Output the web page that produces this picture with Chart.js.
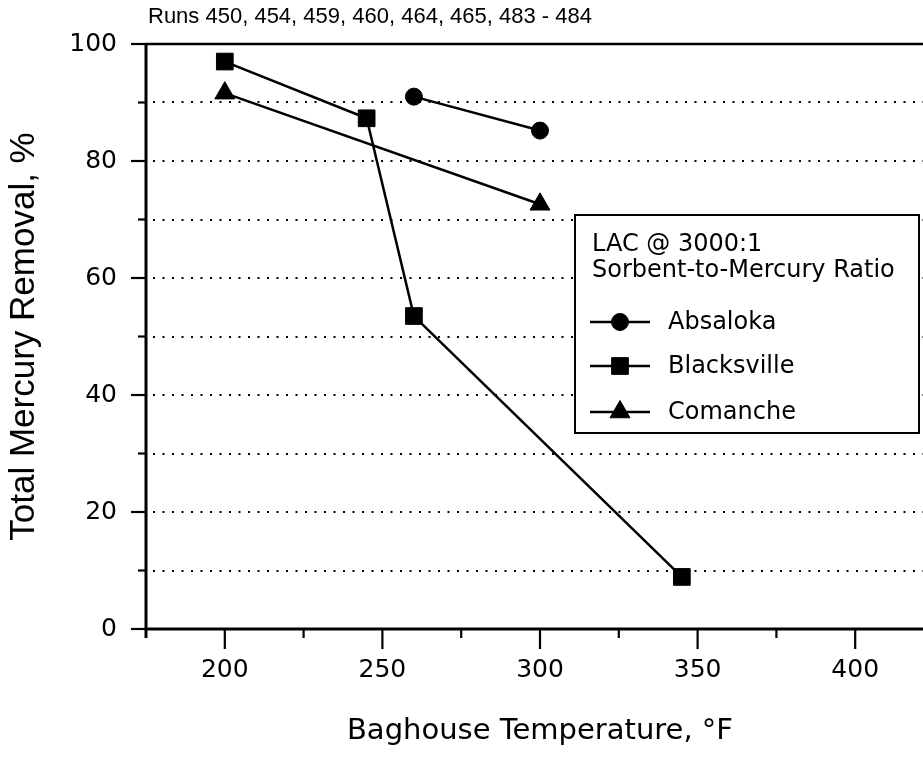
<!DOCTYPE html>
<html>
<head>
<meta charset="utf-8">
<script src="https://cdn.jsdelivr.net/npm/chart.js@4"></script>
<style>
  html, body { margin: 0; padding: 0; background: #fff; overflow: hidden; }
  #wrap { position: relative; width: 940px; height: 757px; }
</style>
</head>
<body>
<div id="wrap"><canvas id="c"></canvas></div>
<script>
// ---- data ----
const seriesNames = ['Absaloka', 'Blacksville', 'Comanche'];
const absalokaTemp = [260, 300];
const absalokaRemoval = [91, 85.2];
const blacksvilleTemp = [200, 245, 260, 345];
const blacksvilleRemoval = [97, 87.3, 53.5, 8.9];
const comancheTemp = [200, 300];
const comancheRemoval = [91.6, 72.6];
const xTickLabels = [200, 250, 300, 350, 400];
const yTickLabels = [0, 20, 40, 60, 80, 100];
const chartTitle = 'Runs 450, 454, 459, 460, 464, 465, 483 - 484';
const legendTitle = ['LAC @ 3000:1', 'Sorbent-to-Mercury Ratio'];
const xTitle = 'Baghouse Temperature, \u00B0F';
const yTitle = 'Total Mercury Removal, %';

function pts(xs, ys) { return xs.map((x, i) => ({ x: x, y: ys[i] })); }

const styles = [
  { pointStyle: 'circle', radius: 8.5 },
  { pointStyle: 'rect', radius: 11.8 },
  { pointStyle: 'triangle', radius: 11.5 }
];
const dataSets = [
  pts(absalokaTemp, absalokaRemoval),
  pts(blacksvilleTemp, blacksvilleRemoval),
  pts(comancheTemp, comancheRemoval)
];

Chart.defaults.font.family = 'DejaVu Sans';
Chart.defaults.color = '#000';

const PLOT_RIGHT = 934; // plot extends past the visible window edge

function drawMarker(ctx, style, radius, x, y) {
  if (Chart.helpers && Chart.helpers.drawPoint) {
    Chart.helpers.drawPoint(ctx, { pointStyle: style, radius: radius, rotation: 0, borderWidth: 1 }, x, y);
    return;
  }
  ctx.beginPath();
  if (style === 'circle') ctx.arc(x, y, radius, 0, Math.PI * 2);
  else if (style === 'rect') { const s = radius * Math.SQRT1_2; ctx.rect(x - s, y - s, 2 * s, 2 * s); }
  else { ctx.moveTo(x, y - radius); ctx.lineTo(x + radius * 0.866, y + radius / 2); ctx.lineTo(x - radius * 0.866, y + radius / 2); ctx.closePath(); }
  ctx.fill(); ctx.stroke();
}

const decor = {
  id: 'decor',
  afterDraw(chart) {
    const ctx = chart.ctx;
    const ca = chart.chartArea;
    const xs = chart.scales.x, ys = chart.scales.y;
    const rightEdge = Math.max(ca.right, chart.width);
    ctx.save();
    ctx.setLineDash([]);
    ctx.strokeStyle = '#000';
    ctx.fillStyle = '#000';
    // frame: top border, left axis, bottom axis
    ctx.lineWidth = 2.5;
    ctx.beginPath(); ctx.moveTo(ca.left, ca.top); ctx.lineTo(rightEdge, ca.top); ctx.stroke();
    ctx.lineWidth = 3;
    ctx.beginPath(); ctx.moveTo(ca.left, ca.top - 1); ctx.lineTo(ca.left, ca.bottom + 9); ctx.stroke();
    ctx.beginPath(); ctx.moveTo(ca.left - 1, ca.bottom); ctx.lineTo(rightEdge, ca.bottom); ctx.stroke();
    // y tick marks
    ctx.lineWidth = 2.2;
    ys.ticks.forEach(t => {
      const py = ys.getPixelForValue(t.value);
      const len = yTickLabels.includes(t.value) ? 15 : 8;
      ctx.beginPath(); ctx.moveTo(ca.left - len, py); ctx.lineTo(ca.left, py); ctx.stroke();
    });
    // x tick marks
    xs.ticks.forEach(t => {
      if (t.value === xs.min) return;
      const px = xs.getPixelForValue(t.value);
      const len = xTickLabels.includes(t.value) ? 20 : 9;
      ctx.beginPath(); ctx.moveTo(px, ca.bottom); ctx.lineTo(px, ca.bottom + len); ctx.stroke();
    });
    // chart title
    ctx.font = '22px "Liberation Sans"';
    ctx.textBaseline = 'middle';
    ctx.textAlign = 'left';
    ctx.fillText(chartTitle, ca.left + 2, 17);

    // legend box
    const bx = ca.left + 429, by = ca.top + 171, bw = 344, bh = 218;
    ctx.fillStyle = '#fff';
    ctx.fillRect(bx, by, bw, bh);
    ctx.fillStyle = '#000';
    ctx.lineWidth = 2;
    ctx.strokeRect(bx, by, bw, bh);
    ctx.font = '24px "DejaVu Sans"';
    ctx.fillText(legendTitle[0], bx + 17, by + 30);
    ctx.fillText(legendTitle[1], bx + 17, by + 56);
    const rowY = [by + 107, by + 151, by + 197];
    chart.data.datasets.forEach((ds, i) => {
      const yy = rowY[i];
      ctx.lineWidth = 2.5;
      ctx.beginPath(); ctx.moveTo(bx + 15, yy); ctx.lineTo(bx + 75, yy); ctx.stroke();
      ctx.lineWidth = 1;
      drawMarker(ctx, ds.pointStyle, ds.pointRadius, bx + 45, yy);
      ctx.font = '24px "DejaVu Sans"';
      ctx.fillText(ds.label, bx + 93, yy + 1);
    });
    ctx.restore();
  }
};

const chart = new Chart(document.getElementById('c'), {
  type: 'scatter',
  data: {
    datasets: seriesNames.map((name, i) => ({
      label: name,
      data: dataSets[i],
      showLine: true,
      borderColor: '#000',
      backgroundColor: '#000',
      borderWidth: 2.5,
      pointStyle: styles[i].pointStyle,
      pointRadius: styles[i].radius,
      pointBorderWidth: 1,
      pointBackgroundColor: '#000',
      pointBorderColor: '#000'
    }))
  },
  options: {
    responsive: true,
    maintainAspectRatio: false,
    animation: false,
    layout: { autoPadding: false, padding: { left: 0, right: 6, top: 44, bottom: 0 } },
    plugins: { legend: { display: false }, title: { display: false }, tooltip: { enabled: false } },
    scales: {
      x: {
        type: 'linear', min: 175, max: 425,
        ticks: {
          stepSize: 25, autoSkip: false, maxRotation: 0, padding: 26,
          font: { size: 25 },
          callback: v => xTickLabels.includes(v) ? String(v) : ''
        },
        grid: { drawOnChartArea: false, drawTicks: false },
        border: { display: false },
        title: { display: true, text: xTitle, font: { size: 29 }, padding: { top: 0, bottom: 8 } },
        afterFit: s => { s.height = 128; s.paddingRight = 0; s.paddingLeft = 0; }
      },
      y: {
        type: 'linear', min: 0, max: 100,
        ticks: {
          stepSize: 10, autoSkip: false, padding: 29,
          font: { size: 25 },
          callback: v => yTickLabels.includes(v) ? String(v) : ''
        },
        grid: {
          drawTicks: false,
          color: c => (c.tick && (c.tick.value === 0 || c.tick.value === 100)) ? 'rgba(0,0,0,0)' : '#000',
          lineWidth: 2
        },
        border: { display: false, dash: [2, 7.5], dashOffset: -7 },
        title: { display: true, text: yTitle, font: { size: 35, family: 'Liberation Sans' }, padding: { top: 3, bottom: 0 } },
        afterFit: s => { s.width = 146; }
      }
    }
  },
  plugins: [decor]
});
// make the plot area end at the same place as in the original (past the window edge)
chart.options.layout.padding.right = chart.width - PLOT_RIGHT;
chart.update('none');
</script>
</body>
</html>
